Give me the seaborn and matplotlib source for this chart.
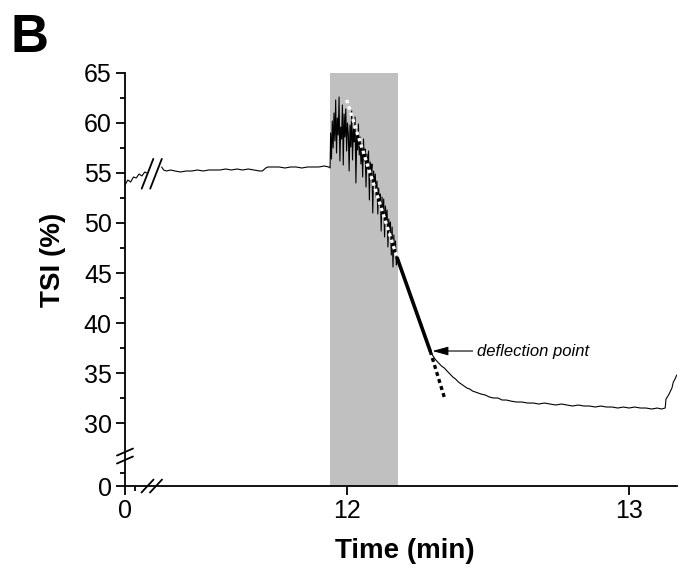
import numpy as np
import pandas as pd
import matplotlib
matplotlib.use('Agg')
import matplotlib.pyplot as plt
from matplotlib.ticker import FixedLocator
import seaborn as sns

# --- data ---
# start of the record, before the time break
t_start = [0.0, 0.01, 0.02, 0.03, 0.04, 0.05, 0.06, 0.07, 0.077]
tsi_start = [53.8, 54.3, 54.1, 54.6, 54.5, 54.9, 54.7, 55.1, 55.0]

# baseline before the stimulus (after the break)
t_base = [11.343, 11.35, 11.36, 11.375, 11.39, 11.41, 11.43, 11.45, 11.47, 11.49,
          11.51, 11.53, 11.55, 11.57, 11.59, 11.61, 11.63, 11.65, 11.67, 11.69,
          11.70, 11.712, 11.72, 11.74, 11.76, 11.78, 11.80, 11.82, 11.84, 11.86,
          11.88, 11.90, 11.92, 11.935, 11.94]
tsi_base = [55.6, 55.3, 55.2, 55.3, 55.2, 55.1, 55.2, 55.2, 55.3, 55.2,
            55.3, 55.3, 55.3, 55.4, 55.3, 55.4, 55.3, 55.4, 55.3, 55.2,
            55.2, 55.5, 55.6, 55.6, 55.6, 55.5, 55.6, 55.6, 55.5, 55.6,
            55.6, 55.6, 55.7, 55.6, 55.5]

# noisy part inside the shaded window (11.94 -> 12.178 min)
noisy_start, noisy_end = 11.942, 12.178
tsi_noisy = [59.0, 56.4, 60.2, 57.5, 61.0, 58.2, 62.3, 57.0, 60.5, 58.8,
             62.6, 56.2, 59.6, 58.4, 61.8, 55.8, 60.9, 58.6, 61.4, 57.2,
             60.0, 58.9, 55.2, 59.8, 57.6, 61.2, 56.3, 59.4, 58.1, 60.6,
             54.0, 58.8, 57.3, 59.9, 56.8, 58.6, 55.9, 57.9, 54.6, 58.4,
             56.2, 57.4, 53.6, 56.9, 55.4, 57.2, 52.3, 56.1, 54.8, 55.9,
             51.0, 55.2, 53.8, 54.9, 52.6, 54.2, 50.9, 53.5, 51.8, 52.9,
             49.2, 52.6, 50.6, 52.4, 48.6, 51.7, 50.0, 51.3, 47.6, 50.4,
             49.2, 50.1, 46.8, 49.6, 45.6, 48.8, 46.9, 48.2, 45.8, 46.5]

# recovery after the stimulus
t_post = [12.295, 12.305, 12.315, 12.325, 12.335, 12.345, 12.355, 12.365, 12.375, 12.385,
          12.395, 12.405, 12.415, 12.425, 12.435, 12.445, 12.455, 12.465, 12.475, 12.49,
          12.505, 12.52, 12.535, 12.55, 12.565, 12.58, 12.60, 12.62, 12.64, 12.66,
          12.68, 12.70, 12.72, 12.74, 12.76, 12.78, 12.80, 12.82, 12.84, 12.86,
          12.88, 12.90, 12.92, 12.94, 12.96, 12.98, 13.00, 13.02, 13.04, 13.06,
          13.08, 13.10, 13.115, 13.128, 13.131, 13.14, 13.145, 13.152, 13.157, 13.163,
          13.169]
tsi_post = [37.2, 36.7, 36.3, 36.0, 35.7, 35.5, 35.2, 34.9, 34.6, 34.4,
            34.1, 33.9, 33.7, 33.5, 33.4, 33.2, 33.1, 33.0, 32.9, 32.8,
            32.6, 32.5, 32.5, 32.3, 32.3, 32.2, 32.1, 32.1, 32.0, 32.0,
            31.9, 32.0, 31.9, 31.8, 31.9, 31.8, 31.7, 31.8, 31.7, 31.7,
            31.6, 31.7, 31.6, 31.6, 31.5, 31.6, 31.5, 31.6, 31.5, 31.5,
            31.4, 31.5, 31.4, 31.5, 32.4, 32.8, 33.1, 33.5, 34.1, 34.4,
            34.8]

# fitted slopes
fit_white_t, fit_white_y = [11.999, 12.178], [62.3, 46.5]
fit_thick_t, fit_thick_y = [12.178, 12.295], [46.5, 37.2]
fit_dot_t, fit_dot_y = [12.295, 12.348], [37.2, 32.3]

window = (11.94, 12.181)
deflection = (12.298, 37.2)

t_noisy = list(np.linspace(noisy_start, noisy_end, len(tsi_noisy)))
main = pd.DataFrame({'t': t_base + t_noisy + t_post,
                     'tsi': tsi_base + tsi_noisy + tsi_post})
first = pd.DataFrame({'t': t_start, 'tsi': tsi_start})

# --- broken axes as piecewise linear scales ---
xs_data = [-10, 0.0, 0.08, 11.341, 30]
xs_disp = [-10, 0.0, 0.08, 0.128, 30 - 11.213]
ys_data = [-1000, 0, 25, 1000]
ys_disp = [23.7 - 52, 23.7, 25, 1000]


def fx(v):
    return np.interp(v, xs_data, xs_disp)


def ix(v):
    return np.interp(v, xs_disp, xs_data)


def fy(v):
    return np.interp(v, ys_data, ys_disp)


def iy(v):
    return np.interp(v, ys_disp, ys_data)


sns.set_style('ticks')
plt.rcParams['font.family'] = ['Liberation Sans', 'DejaVu Sans']
plt.rcParams.update({'text.color': 'black', 'axes.labelcolor': 'black',
                     'xtick.color': 'black', 'ytick.color': 'black'})

fig = plt.figure(figsize=(6.86, 5.82), dpi=100)
ax = fig.add_axes([0.1822, 0.1649, 0.8047, 0.7097])
ax.set_xscale('function', functions=(fx, ix))
ax.set_yscale('function', functions=(fy, iy))

ax.axvspan(window[0], window[1], color='#c0c0c0', lw=0, zorder=0)

sns.lineplot(data=first, x='t', y='tsi', ax=ax, color='black', lw=0.8,
             estimator=None, sort=False)
sns.lineplot(data=main, x='t', y='tsi', ax=ax, color='black', lw=0.8,
             estimator=None, sort=False)
ax.plot(fit_white_t, fit_white_y, color='white', lw=2.4, ls=(0, (1, 1)), zorder=4)
ax.plot(fit_thick_t, fit_thick_y, color='black', lw=2.6, zorder=4)
ax.plot(fit_dot_t, fit_dot_y, color='black', lw=2.4, ls=(0, (1.2, 1)), zorder=4)

ax.annotate('deflection point', xy=deflection, xytext=(12.462, 37.2),
            fontsize=12, style='italic', va='center', ha='left',
            arrowprops=dict(arrowstyle='-|>,head_length=0.8,head_width=0.22',
                            color='black', lw=0.8, shrinkA=1, shrinkB=1))

ax.set_xlim(0, 13.17)
ax.set_ylim(0, 65)

ax.xaxis.set_major_locator(FixedLocator([0, 12, 13]))
ax.xaxis.set_minor_locator(FixedLocator([0.035]))
ax.set_xticklabels(['0', '12', '13'])
ax.yaxis.set_major_locator(FixedLocator([0, 30, 35, 40, 45, 50, 55, 60, 65]))
ax.yaxis.set_minor_locator(FixedLocator([25, 32.5, 37.5, 42.5, 47.5, 52.5, 57.5, 62.5]))
ax.set_yticklabels(['0', '30', '35', '40', '45', '50', '55', '60', '65'])

ax.tick_params(which='major', direction='out', length=6.5, width=1.3,
               labelsize=18, pad=3, color='black')
ax.tick_params(which='minor', direction='out', length=3.5, width=1.3, color='black')
for s in ['top', 'right']:
    ax.spines[s].set_visible(False)
for s in ['left', 'bottom']:
    ax.spines[s].set_linewidth(1.3)
    ax.spines[s].set_color('black')

ax.set_xlabel('Time (min)', fontsize=20, fontweight='bold')
ax.set_ylabel('TSI (%)', fontsize=20, fontweight='bold')
ax.xaxis.set_label_coords(0.507, -0.125)
ax.yaxis.set_label_coords(-0.106, 0.547)

# break marks
brk = dict(color='black', lw=1.3, transform=ax.transAxes, clip_on=False, zorder=6)
for cx in [0.0408, 0.0562]:
    ax.plot([cx - 0.0109, cx + 0.0109], [-0.0157, 0.0157], **brk)
for cy in [0.0823, 0.063]:
    ax.plot([-0.0145, 0.0145], [cy - 0.0085, cy + 0.0085], **brk)
for cx in [0.0408, 0.0562]:
    ax.plot([cx - 0.0105, cx + 0.0105], [0.72, 0.792], **brk)

fig.text(0.015, 0.977, 'B', fontsize=38, fontweight='bold', va='top', ha='left')

fig.savefig('out.png', dpi=100)
